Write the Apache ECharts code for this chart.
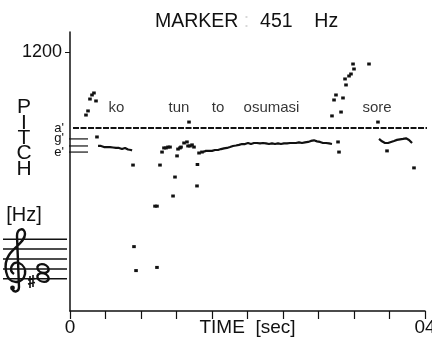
<!DOCTYPE html>
<html>
<head>
<meta charset="utf-8">
<script src="https://cdn.jsdelivr.net/npm/echarts@6/dist/echarts.min.js"></script>
<style>html,body{margin:0;padding:0;background:#fff}#c{width:432px;height:341px}</style>
</head>
<body>
<div id="c"></div>
<script>
// ---- data (time in sec, pitch in Hz) ----
const markerHz = 451;
const xTickLabels = ['0', '04'];
const noteLabels = {1200: '1200', 451: "a'", 392: "g'", 331: "e'"};
const noteLineHz = [392, 358, 331];

const koT  = [0.316,0.349,0.383,0.417,0.451,0.485,0.518,0.552,0.586,0.620,0.654,0.687,0.699];
const koHz = [358,358,353,353,353,351,349,349,344,349,342,340,338];

const osuT  = [1.499,1.532,1.566,1.600,1.634,1.668,1.701,1.735,1.769,1.803,1.837,1.870,1.904,1.938,1.972,2.006,2.039,2.073,2.107,2.141,2.175,2.208,2.242,2.276,2.310,2.344,2.377,2.411,2.445,2.479,2.513,2.546,2.580,2.614,2.648,2.682,2.715,2.749,2.783,2.817,2.851,2.885,2.918,2.952];
const osuHz = [331,336,336,336,340,340,344,347,349,353,358,360,363,367,367,372,367,372,372,370,372,370,367,370,367,370,367,370,370,372,372,372,375,372,375,377,382,385,380,377,372,372,370,367];

const soreT  = [3.482,3.515,3.549,3.583,3.617,3.651,3.684,3.718,3.752,3.786,3.820,3.854];
const soreHz = [392,380,372,372,377,382,387,390,392,395,387,372];

const dotT  = [0.180,0.203,0.225,0.248,0.270,0.293,0.304,0.710,0.721,0.744,0.958,0.980,0.980,1.014,1.037,1.059,1.082,1.104,1.127,1.161,1.183,1.206,1.217,1.239,1.251,1.285,1.318,1.330,1.341,1.352,1.375,1.397,1.431,1.436,1.454,1.487,2.952,2.975,2.997,3.020,3.031,3.054,3.076,3.099,3.110,3.144,3.166,3.189,3.200,3.369,3.470,3.572,3.876];
const dotHz = [533,562,655,690,708,639,402,280,98,72,165,165,75,280,331,349,349,353,353,188,240,315,344,349,353,372,377,358,487,358,363,353,214,282,327,331,527,647,690,377,331,554,664,848,785,881,904,1028,964,1028,487,336,270];

const words = ['ko','tun','to','osumasi','sore'];
const wordT = [0.524,1.228,1.668,2.270,3.459];
const wordHz = 584;

// ---- helpers ----
const zip = (a, b) => a.map((v, i) => [v, b[i]]);
const INK = '#111';
const NARROW = "'Liberation Sans Narrow','Arial Narrow','Liberation Sans',sans-serif";
const REG = "'Liberation Sans',Arial,sans-serif";

echarts.graphic.registerShape('clef', echarts.graphic.extendPath(
  'M 12 289 C 14 293 19 292 19 287 L 17 236 C 17 228 25 227 25 234 C 25 242 14 247 9 255 C 3 264 5 282 16 282 C 26 282 29 267 19 263 C 12 261 8 270 14 274', {}));
echarts.graphic.registerShape('notes', echarts.graphic.extendPath(
  'M 37.5 268.5 A 5.5 4 20 1 0 48.5 268.5 A 5.5 4 20 1 0 37.5 268.5 Z M 37.5 277.5 A 5.5 4 20 1 0 48.5 277.5 A 5.5 4 20 1 0 37.5 277.5 Z', {}));
echarts.graphic.registerShape('sharp', echarts.graphic.extendPath(
  'M 30 276 L 30 288 M 33 275 L 33 287 M 28 280 L 35 278.5 M 28 284 L 35 282.5', {}));

const chart = echarts.init(document.getElementById('c'), null, {renderer: 'canvas'});

const trackStyle = {type: 'line', symbol: 'none', silent: true, animation: false,
  lineStyle: {color: INK, width: 2.2}};

const noteLineSeries = noteLineHz.map(h => ({
  type: 'line', symbol: 'none', silent: true, animation: false, clip: false,
  lineStyle: {color: INK, width: 1.2},
  data: [[-0.079, h], [0.203, h]]
}));

chart.setOption({
  backgroundColor: '#fff',
  animation: false,
  title: {
    text: 'MARKER {g|:}  451    Hz',
    left: 150, top: 7,
    textStyle: {fontFamily: REG, fontSize: 19.5, fontWeight: 'normal', color: INK,
      rich: {g: {color: '#d8d8d8', fontFamily: REG, fontSize: 19.5}}}
  },
  grid: {left: 70, right: 7, top: 32, bottom: 30, containLabel: false, outerBoundsMode: 'none'},
  xAxis: {
    type: 'value', min: 0, max: 4, interval: 0.4,
    axisLine: {show: true, onZero: false, lineStyle: {color: INK, width: 1.5}},
    axisTick: {show: true, length: 8, lineStyle: {color: INK, width: 1.2}},
    axisLabel: {customValues: [0, 4], formatter: v => (v === 0 ? xTickLabels[0] : xTickLabels[1]),
      fontFamily: NARROW, fontSize: 19, color: INK, margin: 7, hideOverlap: false},
    splitLine: {show: false},
    name: 'TIME  [sec]', nameLocation: 'middle', nameGap: 7, nameMoveOverlap: false,
    nameTextStyle: {fontFamily: REG, fontSize: 19, color: INK, verticalAlign: 'top'}
  },
  yAxis: {
    type: 'log', min: 42.8, max: 1552,
    axisLine: {show: true, onZero: false, lineStyle: {color: INK, width: 1.5}},
    axisTick: {show: true, customValues: [1200], length: 5, lineStyle: {color: INK, width: 1}},
    axisLabel: {
      customValues: [1200, 451, 392, 331],
      hideOverlap: false,
      formatter: v => {
        const k = Math.round(v);
        return k === 1200 ? '{big|1200}' : '{n|' + noteLabels[k] + '}';
      },
      margin: 6,
      rich: {
        big: {fontFamily: NARROW, fontSize: 18, color: INK, padding: [0, 2, 0, 0]},
        n: {fontFamily: REG, fontSize: 13, lineHeight: 11, color: INK}
      }
    },
    splitLine: {show: false}, minorTick: {show: false}
  },
  series: [
    {type: 'line', symbol: 'none', silent: true, clip: false, animation: false,
      lineStyle: {color: INK, width: 1.8, type: [6, 1.5]},
      data: [[0.034, markerHz], [4.08, markerHz]]},
    ...noteLineSeries,
    Object.assign({data: zip(koT, koHz)}, trackStyle),
    Object.assign({data: zip(osuT, osuHz)}, trackStyle),
    Object.assign({data: zip(soreT, soreHz)}, trackStyle),
    {type: 'scatter', symbol: 'rect', symbolSize: [3.6, 3], silent: true, animation: false,
      itemStyle: {color: INK, opacity: 1}, data: zip(dotT, dotHz)},
    {type: 'scatter', symbolSize: 0, silent: true, animation: false,
      data: words.map((w, i) => ({name: w, value: [wordT[i], wordHz]})),
      label: {show: true, position: 'inside', formatter: p => p.name,
        fontFamily: REG, fontSize: 15, color: '#000'}}
  ],
  graphic: [
    ...['P','I','T','C','H'].map((ch, i) => ({
      type: 'text', silent: true,
      style: {text: ch, x: 24, y: [107.5,123.5,138.5,153.5,169][i], align: 'center', verticalAlign: 'middle',
        font: '21px ' + NARROW, fill: INK}
    })),
    {type: 'text', silent: true, style: {text: '[Hz]', x: 24, y: 215, align: 'center', verticalAlign: 'middle',
      font: '20px ' + REG, fill: INK}},
    ...[239.3, 249, 259, 269, 278.7].map(y => ({
      type: 'line', silent: true, shape: {x1: 3, y1: y, x2: 67, y2: y}, style: {stroke: INK, lineWidth: 1.4}
    })),
    {type: 'clef', silent: true, style: {stroke: INK, lineWidth: 2.4, fill: null}},
    {type: 'circle', silent: true, shape: {cx: 12.5, cy: 288, r: 2.4}, style: {fill: INK}},
    {type: 'sharp', silent: true, style: {stroke: INK, lineWidth: 1.6, fill: null}},
    {type: 'notes', silent: true, style: {stroke: INK, lineWidth: 2.4, fill: null}}
  ]
});
</script>
</body>
</html>
